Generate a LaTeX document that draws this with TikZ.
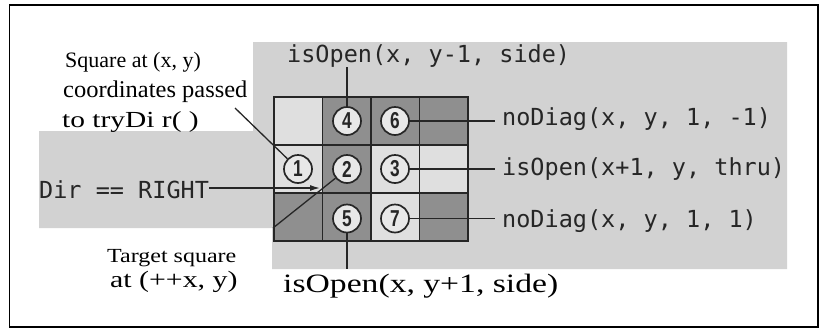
\documentclass[tikz,border=0pt]{standalone}
\usepackage{fontspec}
\usepackage{graphicx}
\setmainfont{Liberation Serif}
\newfontfamily\monof{DejaVu Sans Mono}
\newfontfamily\digf{Liberation Sans}
\usetikzlibrary{arrows.meta}
\definecolor{bggray}{HTML}{D2D2D2}
\definecolor{lightcell}{HTML}{DFDFDF}
\definecolor{darkcell}{HTML}{8F8F8F}
\definecolor{inkgray}{HTML}{262626}
\definecolor{circfill}{HTML}{E8E8E8}
\begin{document}
\begin{tikzpicture}[x=1pt,y=-1pt,
  numc/.style={circle,draw=inkgray,line width=1.7pt,fill=circfill,minimum size=28pt,inner sep=0pt,
    font=\digf\bfseries\fontsize{23}{23}\selectfont,text=inkgray},
  code/.style={font=\monof\fontsize{23.5}{24}\selectfont,text=inkgray,inner sep=0pt,anchor=base west},
  serif/.style={text=black,inner sep=0pt,anchor=base west},
  lead/.style={draw=inkgray,line width=1.3pt},
  gridl/.style={draw=inkgray,line width=1.5pt},
  cellL/.style={fill=lightcell},
  cellD/.style={fill=darkcell}]
\useasboundingbox (0,0) rectangle (822,330);
% frame and background
\draw[line width=1.5pt] (9.5,5) rectangle (818,327);
\fill[bggray] (253,42) -- (787,42) -- (787,269) -- (272,269) -- (272,228) -- (39,228) -- (39,131) -- (253,131) -- cycle;
% cells
\fill[cellL] (274,97) rectangle (322.5,145);
\fill[cellD] (322.5,97) rectangle (371,145);
\fill[cellD] (371,97) rectangle (419.5,145);
\fill[cellD] (419.5,97) rectangle (468,145);
\fill[cellL] (274,145) rectangle (322.5,193);
\fill[cellD] (322.5,145) rectangle (371,193);
\fill[cellL] (371,145) rectangle (419.5,193);
\fill[cellL] (419.5,145) rectangle (468,193);
\fill[cellD] (274,193) rectangle (322.5,241);
\fill[cellD] (322.5,193) rectangle (371,241);
\fill[cellL] (371,193) rectangle (419.5,241);
\fill[cellD] (419.5,193) rectangle (468,241);
% grid lines
\draw[gridl] (274,97) rectangle (468,241);
\draw[gridl] (322.5,97) -- (322.5,241);
\draw[gridl] (371,97) -- (371,241);
\draw[gridl] (419.5,97) -- (419.5,241);
\draw[gridl] (274,145) -- (468,145);
\draw[gridl] (274,193) -- (468,193);
% numbered circles
\node[numc] (c4) at (347,121) {\scalebox{0.75}[1]{4}};
\node[numc] (c6) at (395,121) {\scalebox{0.75}[1]{6}};
\node[numc] (c1) at (298,169) {\scalebox{0.75}[1]{1}};
\node[numc] (c2) at (347,169) {\scalebox{0.75}[1]{2}};
\node[numc] (c3) at (395,169) {\scalebox{0.75}[1]{3}};
\node[numc] (c5) at (347,218.5) {\scalebox{0.75}[1]{5}};
\node[numc] (c7) at (395,218.5) {\scalebox{0.75}[1]{7}};
% code labels
\node[code] (top) at (287,62) {isOpen(x, y-1, side)};
\node[code,inner xsep=7pt] (nd1) at (495,125) {noDiag(x, y, 1, -1)};
\node[code,inner xsep=7pt] (thru) at (495,175) {isOpen(x+1, y, thru)};
\node[code,inner xsep=7pt] (nd2) at (495,227) {noDiag(x, y, 1, 1)};
\node[code] (dir) at (39,198) {Dir == RIGHT};
% serif labels
\node[serif,font=\fontsize{22}{22}\selectfont] (sq1) at (65,67) {Square at (x, y)};
\node[serif,font=\fontsize{24}{24}\selectfont] (sq2) at (63,97) {\scalebox{1.02}[1]{coordinates passed}};
\node[serif,font=\fontsize{23}{23}\selectfont] (sq3) at (62,127) {\scalebox{1.28}[1]{to tryDi r( )}};
\node[serif,font=\fontsize{20}{20}\selectfont] (tg1) at (107,262) {\scalebox{1.2}[1]{Target square}};
\node[serif,font=\fontsize{23.5}{23.5}\selectfont] (tg2) at (110,287) {\scalebox{1.27}[1]{at (++x, y)}};
\node[serif,font=\fontsize{26.5}{26.5}\selectfont] (bot) at (283,292) {\scalebox{1.27}[1]{isOpen(x, y+1, side)}};
% connectors
\coordinate (p1) at (235,108);
\coordinate (p2) at (273,228);
\coordinate (p5) at (347,269);
\coordinate (tip) at (320,188);
\draw[lead] (c4) -- (c4 |- top.south);
\draw[lead] (c6) -- (c6 -| nd1.west);
\draw[lead] (c3) -- (c3 -| thru.west);
\draw[lead] (c7) -- (c7 -| nd2.west);
\draw[lead] (p1) -- (c1);
\draw[lead] (c2) -- (p2);
\draw[lead] (c5) -- (p5);
\draw[lead,-{Latex[length=10pt,width=6pt]}] (dir.east |- tip) -- (tip);
\end{tikzpicture}
\end{document}
